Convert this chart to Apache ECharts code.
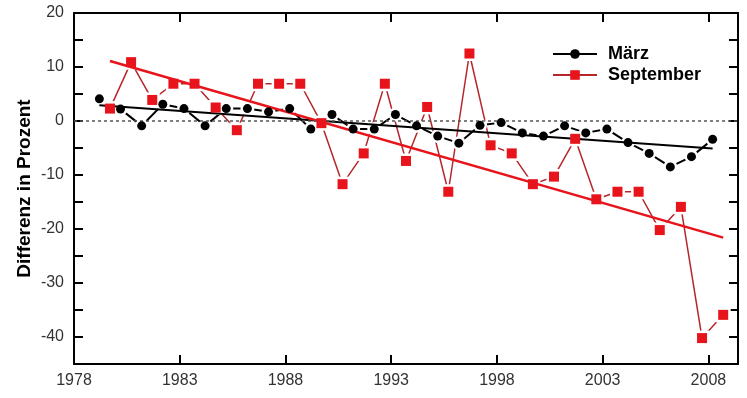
<!DOCTYPE html>
<html>
<head>
<meta charset="utf-8">
<script src="https://cdn.jsdelivr.net/npm/echarts@6/dist/echarts.min.js"></script>
<style>
  html, body { margin: 0; padding: 0; background: #fff; }
  #chart { width: 747px; height: 398px; }
</style>
</head>
<body>
<div id="chart"></div>
<script>
// Jahre der Messungen (März ~ Jahr + 0.2, September ~ Jahr + 0.7)
const years = [1979, 1980, 1981, 1982, 1983, 1984, 1985, 1986, 1987, 1988,
               1989, 1990, 1991, 1992, 1993, 1994, 1995, 1996, 1997, 1998,
               1999, 2000, 2001, 2002, 2003, 2004, 2005, 2006, 2007, 2008];
const marchOffset = 0.2;
const septOffset = 0.7;

const maerz = [4.1, 2.2, -0.9, 3.1, 2.3, -0.9, 2.3, 2.3, 1.7, 2.3,
               -1.5, 1.2, -1.5, -1.5, 1.2, -0.9, -2.8, -4.1, -0.8, -0.3,
               -2.2, -2.8, -0.9, -2.2, -1.5, -4.0, -6.0, -8.5, -6.6, -3.4];
const september = [2.3, 10.9, 3.9, 6.9, 6.9, 2.5, -1.7, 6.9, 6.9, 6.9,
                   -0.4, -11.7, -6.0, 6.9, -7.4, 2.6, -13.1, 12.5, -4.5, -6.0,
                   -11.7, -10.3, -3.3, -14.5, -13.1, -13.1, -20.2, -15.9, -40.2, -35.9];

// lineare Trends (Anfangs- und Endpunkt)
const maerzTrend = [[1979.2, 2.9], [2008.2, -5.1]];
const septTrend = [[1979.7, 11.1], [2008.7, -21.6]];

const xLabels = [1978, 1983, 1988, 1993, 1998, 2003, 2008];
const yLabels = [-40, -30, -20, -10, 0, 10, 20];
const yTicks = [-40, -35, -30, -25, -20, -15, -10, -5, 0, 5, 10, 15];

const maerzData = years.map((y, i) => [y + marchOffset, maerz[i]]);
const septData = years.map((y, i) => [y + septOffset, september[i]]);

const font = "'Liberation Sans', Arial, sans-serif";
const red = '#e8141c';
const darkRed = '#b5262b';

const chart = echarts.init(document.getElementById('chart'));

const xBase = {
    type: 'value',
    min: 1978,
    max: 2009.4,
    axisLine: { onZero: false, lineStyle: { color: '#000', width: 2 } },
    axisTick: { inside: true, length: 9, lineStyle: { color: '#000', width: 2 }, customValues: xLabels },
    splitLine: { show: false }
};
const yBase = {
    type: 'value',
    min: -45,
    max: 20,
    axisLine: { onZero: false, lineStyle: { color: '#000', width: 2 } },
    axisTick: { inside: true, length: 9, lineStyle: { color: '#000', width: 2 }, customValues: yTicks },
    splitLine: { show: false }
};

const option = {
    animation: false,
    backgroundColor: '#fff',
    grid: { left: 74, right: 9, top: 13, bottom: 34 },
    legend: {
        orient: 'vertical',
        left: 552,
        top: 45,
        padding: 0,
        itemWidth: 44,
        itemHeight: 12,
        itemGap: 3,
        data: ['März', 'September'],
        textStyle: { fontFamily: font, fontSize: 18, fontWeight: 'bold', color: '#000', padding: [0, 0, 0, 6] }
    },
    xAxis: [
        Object.assign({}, xBase, {
            position: 'bottom',
            axisLabel: {
                customValues: xLabels, color: '#333', fontSize: 16, fontFamily: font, margin: 9,
                formatter: v => String(v)
            }
        }),
        Object.assign({}, xBase, { position: 'top', axisLabel: { show: false } })
    ],
    yAxis: [
        Object.assign({}, yBase, {
            position: 'left',
            name: 'Differenz in Prozent',
            nameLocation: 'middle',
            nameGap: 40,
            nameMoveOverlap: false,
            nameTextStyle: { fontFamily: font, fontSize: 19, fontWeight: 'bold', color: '#000' },
            axisLabel: { customValues: yLabels, color: '#333', fontSize: 16, fontFamily: font, margin: 10 }
        }),
        Object.assign({}, yBase, { position: 'right', axisLabel: { show: false } })
    ],
    series: [
        {
            name: 'März',
            type: 'line',
            data: maerzData,
            symbol: 'circle',
            symbolSize: 9,
            itemStyle: { color: '#000' },
            lineStyle: { color: '#000', width: 2 },
            z: 2,
            markLine: {
                silent: true,
                symbol: 'none',
                label: { show: false },
                lineStyle: { color: '#555', type: [3, 3], width: 1.5 },
                data: [{ yAxis: 0 }]
            }
        },
        {
            name: 'September',
            type: 'line',
            data: septData,
            symbol: 'rect',
            symbolSize: 10,
            itemStyle: { color: red },
            lineStyle: { color: darkRed, width: 1.5 },
            z: 2
        },
        // weisse Lücke um die Symbole
        { name: 'gapM', type: 'scatter', data: maerzData, symbol: 'circle', symbolSize: 14, itemStyle: { color: '#fff', opacity: 1 }, silent: true, z: 3 },
        { name: 'gapS', type: 'scatter', data: septData, symbol: 'rect', symbolSize: 15, itemStyle: { color: '#fff', opacity: 1 }, silent: true, z: 3 },
        {
            name: 'trendM', type: 'line', data: maerzTrend, showSymbol: false,
            lineStyle: { color: '#000', width: 2 }, silent: true, z: 4
        },
        {
            name: 'trendS', type: 'line', data: septTrend, showSymbol: false,
            lineStyle: { color: red, width: 2.5 }, silent: true, z: 4
        },
        { name: 'markM', type: 'scatter', data: maerzData, symbol: 'circle', symbolSize: 9, itemStyle: { color: '#000', opacity: 1 }, silent: true, z: 5 },
        { name: 'markS', type: 'scatter', data: septData, symbol: 'rect', symbolSize: 10, itemStyle: { color: red, opacity: 1 }, silent: true, z: 5 }
    ]
};

chart.setOption(option);
</script>
</body>
</html>
